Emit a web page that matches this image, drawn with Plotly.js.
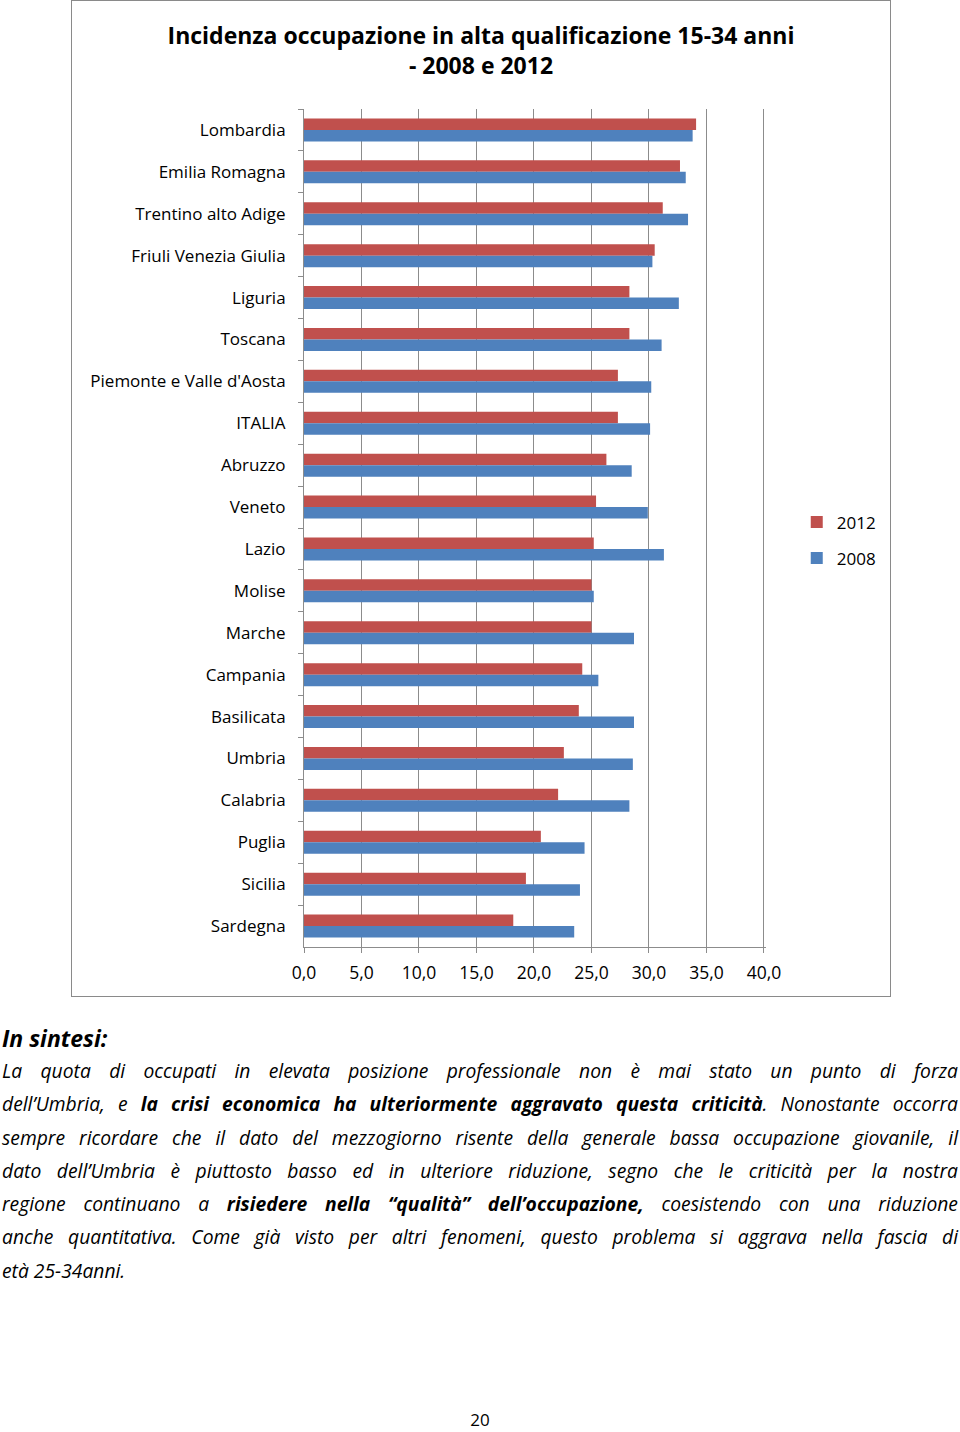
<!DOCTYPE html>
<html>
<head>
<meta charset="utf-8">
<script src="https://cdn.plot.ly/plotly-3.0.1.min.js"></script>
<style>
  html, body { margin: 0; padding: 0; background: #fff; width: 960px; height: 1432px; overflow: hidden; }
  #chart { position: absolute; left: 71px; top: 0px; width: 818px; height: 995px; border: 1.5px solid #8a8a8a; }
  #text { position: absolute; left: 2px; top: 1022px; width: 956px; font-family: "Open Sans", sans-serif; font-style: italic; color: #000; }
  #text .h { font-size: 23px; font-weight: bold; line-height: 32px; }
  #text .l { font-size: 19.3px; line-height: 33.3px; text-align: justify; text-align-last: justify; white-space: nowrap; }
  #text .last { text-align-last: left; }
  #page { position: absolute; top: 1408px; left: 0; width: 960px; text-align: center; font-family: "Open Sans", sans-serif; font-size: 17px; }
</style>
</head>
<body>
<div id="chart"></div>
<div id="text">
  <div class="h">In sintesi:</div>
  <div class="l">La quota di occupati in elevata posizione professionale non è mai stato un punto di forza</div>
  <div class="l">dell’Umbria, e <b>la crisi economica ha ulteriormente aggravato questa criticità</b>. Nonostante occorra</div>
  <div class="l">sempre ricordare che il dato del mezzogiorno risente della generale bassa occupazione giovanile, il</div>
  <div class="l">dato dell’Umbria è piuttosto basso ed in ulteriore riduzione, segno che le criticità per la nostra</div>
  <div class="l">regione continuano a <b>risiedere nella “qualità” dell’occupazione,</b> coesistendo con una riduzione</div>
  <div class="l">anche quantitativa. Come già visto per altri fenomeni, questo problema si aggrava nella fascia di</div>
  <div class="l last">età 25-34anni.</div>
</div>
<div id="page">20</div>
<script>
const regions = ["Lombardia","Emilia Romagna","Trentino alto Adige","Friuli Venezia Giulia","Liguria","Toscana","Piemonte e Valle d'Aosta","ITALIA","Abruzzo","Veneto","Lazio","Molise","Marche","Campania","Basilicata","Umbria","Calabria","Puglia","Sicilia","Sardegna"];
const values2012 = [34.1, 32.7, 31.2, 30.5, 28.3, 28.3, 27.3, 27.3, 26.3, 25.4, 25.2, 25.0, 25.0, 24.2, 23.9, 22.6, 22.1, 20.6, 19.3, 18.2];
const values2008 = [33.8, 33.2, 33.4, 30.3, 32.6, 31.1, 30.2, 30.1, 28.5, 29.9, 31.3, 25.2, 28.7, 25.6, 28.7, 28.6, 28.3, 24.4, 24.0, 23.5];
const xTicks = [0, 5, 10, 15, 20, 25, 30, 35, 40];
const seriesNames = ["2012", "2008"];

const font = "Open Sans, sans-serif";
const traces = [
  { type: "bar", orientation: "h", name: seriesNames[0], y: regions, x: values2012, marker: { color: "#C0504D" }, legendgroup: "a", hoverinfo: "skip" },
  { type: "bar", orientation: "h", name: seriesNames[1], y: regions, x: values2008, marker: { color: "#4F81BD" }, legendgroup: "b", hoverinfo: "skip" }
];
const layout = {
  width: 818, height: 995,
  margin: { l: 232, r: 124, t: 108, b: 49, autoexpand: false },
  paper_bgcolor: "#fff", plot_bgcolor: "#fff",
  separators: ",.",
  barmode: "group", bargap: 0.45, bargroupgap: 0,
  title: { text: "<b>Incidenza occupazione in alta qualificazione 15-34 anni<br>- 2008 e 2012</b>", font: { family: font, size: 23, color: "#000" }, x: 0.5, xref: "container", xanchor: "center", y: 0.957, yref: "container", yanchor: "middle" },
  xaxis: {
    range: [0, 40.18], tickvals: xTicks, tickformat: ".1f",
    showgrid: true, gridcolor: "#8c8c8c", gridwidth: 1,
    showline: true, linecolor: "#8c8c8c", linewidth: 1,
    ticks: "outside", ticklen: 5, tickcolor: "#8c8c8c",
    ticklabelstandoff: 5,
    tickfont: { family: font, size: 17.5, color: "#000" }, zeroline: false, fixedrange: true
  },
  yaxis: {
    autorange: "reversed", type: "category",
    showline: true, linecolor: "#8c8c8c", linewidth: 1,
    ticks: "outside", ticklen: 5, tickcolor: "#8c8c8c", tickson: "boundaries",
    ticklabelstandoff: 14,
    tickfont: { family: font, size: 17, color: "#000" }, showgrid: false, fixedrange: true
  },
  showlegend: true,
  legend: { xref: "container", yref: "container", x: 0.886, y: 0.494, xanchor: "left", yanchor: "top", traceorder: "grouped", tracegroupgap: 11, font: { family: font, size: 17, color: "#000" }, itemwidth: 30 }
};
Plotly.newPlot("chart", traces, layout, { staticPlot: true, displayModeBar: false });
</script>
</body>
</html>
